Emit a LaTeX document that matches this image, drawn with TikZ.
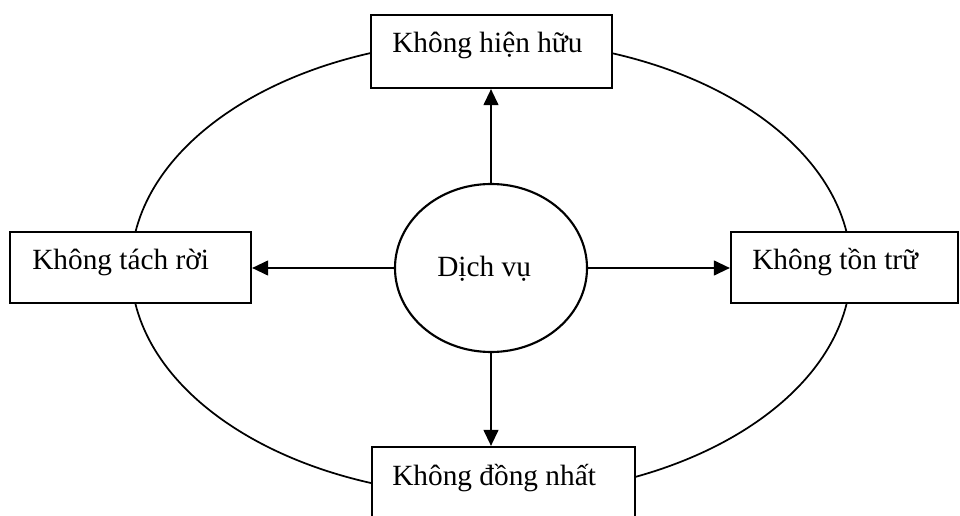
\documentclass[tikz,border=0pt]{standalone}
\usepackage{fontspec}
\setmainfont{Liberation Serif}
\usetikzlibrary{shapes.geometric,arrows.meta}
\begin{document}
\begin{tikzpicture}[x=0.75pt,y=-0.75pt,
  box/.style={draw,line width=1.6pt,fill=white,rectangle,inner sep=0pt},
  lbl/.style={anchor=base west,inner sep=0pt,font=\fontsize{22}{26}\selectfont},
  arr/.style={line width=1.6pt,-{Triangle[length=12pt,width=11pt]}}]
\useasboundingbox (0,0) rectangle (960,516);
\clip (0,0) rectangle (960,516);
\fill[white] (0,0) rectangle (960,516);
% outer ring joining the four properties
\node[ellipse,draw,line width=1.3pt,inner sep=0pt,minimum width=540pt,minimum height=342pt] (ring) at (491,268) {};
% property boxes
\node[box,minimum width=180.75pt,minimum height=54.75pt] (top) at (491.5,51.5) {};
\node[box,minimum width=180.75pt,minimum height=53.25pt] (left) at (130.5,267.5) {};
\node[box,minimum width=170.25pt,minimum height=53.25pt] (right) at (844.5,267.5) {};
\node[box,minimum width=197.25pt,minimum height=54.75pt] (bot) at (503.5,483.5) {};
\node[lbl] (ttop) at (392,53) {Không hiện hữu};
\node[lbl] (tleft) at (32,270) {Không tách rời};
\node[lbl] (tright) at (752,270) {Không tồn trữ};
\node[lbl] (tbot) at (392,485) {Không đồng nhất};
% central ellipse
\node[ellipse,draw,line width=1.6pt,fill=white,inner sep=0pt,minimum width=144pt,minimum height=126pt] (dv) at (491,268) {};
\node[lbl] (tdv) at (437,277) {Dịch vụ};
% straight arrows from the centre
\draw[arr] (dv.north) -- (dv.north |- top.south);
\draw[arr] (dv.west) -- (dv.west -| left.east);
\draw[arr] (dv.east) -- (dv.east -| right.west);
\draw[arr] (dv.south) -- (dv.south |- bot.north);
\end{tikzpicture}
\end{document}
